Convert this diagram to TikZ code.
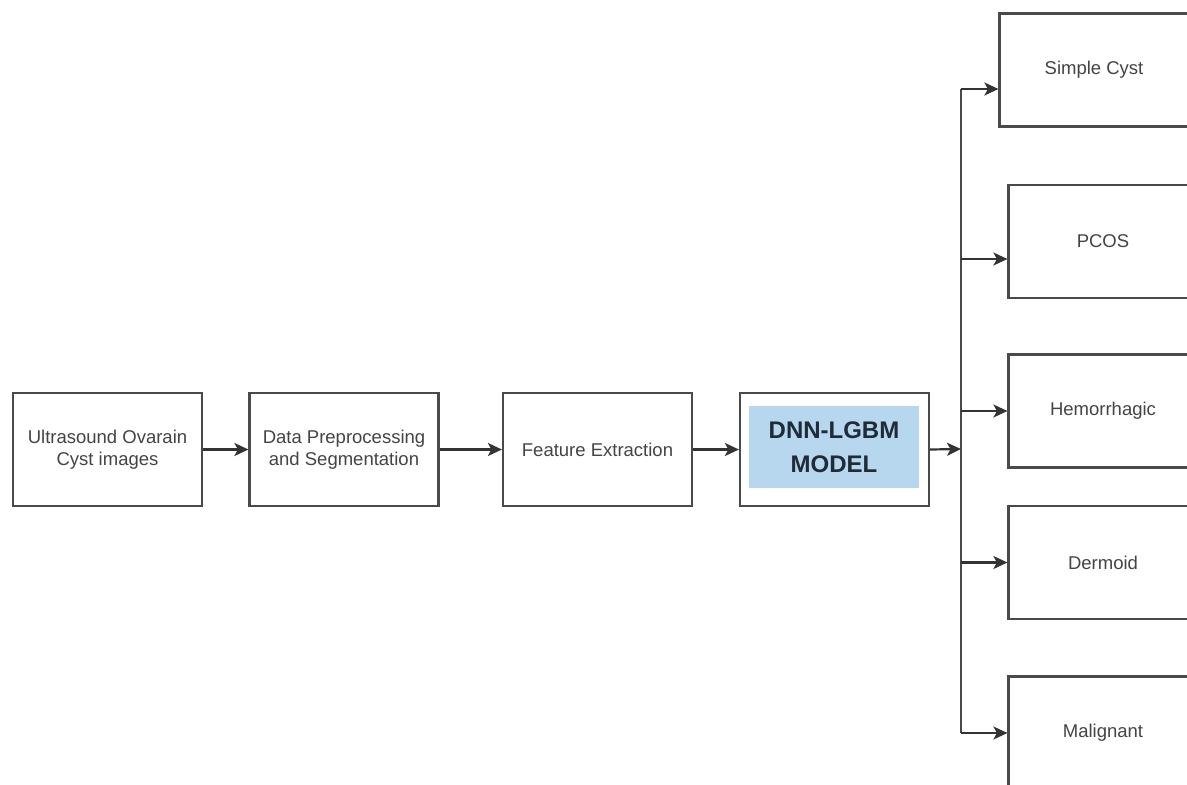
\documentclass[tikz,border=0pt]{standalone}
\usepackage{fontspec}
\setmainfont{Liberation Sans}
\usetikzlibrary{arrows.meta}
\definecolor{boxline}{HTML}{4A4A4A}
\definecolor{txt}{HTML}{444444}
\definecolor{mblue}{HTML}{B6D7EE}
\definecolor{mtxt}{HTML}{1F2B38}
\begin{document}
\begin{tikzpicture}[x=1pt,y=-1pt,
  box/.style={draw=boxline,line width=2.2pt,minimum width=189pt,minimum height=113pt,inner sep=0pt,align=center,text=txt,font=\fontsize{18.5}{22}\selectfont},
  arr/.style={draw=black!80,line width=2.2pt,-{Stealth[length=14pt,width=13pt,inset=3.5pt]}},
  wire/.style={draw=boxline,line width=2.2pt}]
\useasboundingbox (0,0) rectangle (1187,785);
\clip (0,0) rectangle (1187,785);
\fill[white] (0,0) rectangle (1187,785);
\node[box] (u) at (107.5,449.5) {Ultrasound Ovarain\\Cyst images};
\node[box] (d) at (344,449.5) {Data Preprocessing\\and Segmentation};
\node[box] (f) at (597.5,449.5) {Feature Extraction};
\node[box] (m) at (834.5,449.5) {};
\node[fill=mblue,minimum width=170pt,minimum height=82pt,inner sep=0pt,align=center,text=mtxt,font=\bfseries\fontsize{24}{34}\selectfont] (ml) at (834,447) {DNN-LGBM\\MODEL};
\node[box] (c1) at (1094,70) {Simple Cyst};
\node[box] (c2) at (1103,241.5) {PCOS};
\node[box] (c3) at (1103,411) {Hemorrhagic};
\node[box] (c4) at (1103,562.5) {Dermoid};
\node[box] (c5) at (1103,733) {Malignant};
\coordinate (j) at (961,449);
\draw[arr] (u) -- (d);
\draw[arr] (d) -- (f);
\draw[arr] (f) -- (m);
\draw[arr] (m.east) -- (j);
\draw[wire] ([yshift=-19pt]c1.west -| j) -- (c5.west -| j);
\draw[arr] ([yshift=-19pt]c1.west -| j) -- ([yshift=-19pt]c1.west);
\draw[arr] ([yshift=-17.5pt]c2.west -| j) -- ([yshift=-17.5pt]c2.west);
\draw[arr] (c3.west -| j) -- (c3.west);
\draw[arr] (c4.west -| j) -- (c4.west);
\draw[arr] (c5.west -| j) -- (c5.west);
\end{tikzpicture}
\end{document}
